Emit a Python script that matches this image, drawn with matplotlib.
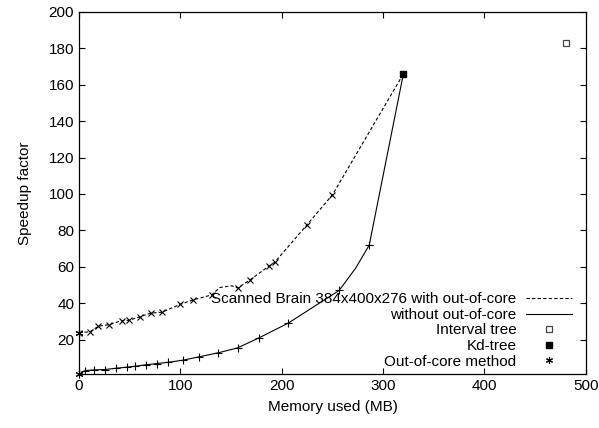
import matplotlib
matplotlib.use("Agg")
import matplotlib.pyplot as plt
from matplotlib.lines import Line2D

plt.rcParams['font.family'] = ['Liberation Sans', 'DejaVu Sans']
plt.rcParams['font.size'] = 11

# with out-of-core (dashed); two unmarked vertices in the bump near 140-150
ooc_mem = [0, 10.8, 19, 30, 42, 49.6, 60, 70.7, 81.8, 99.6, 112.7, 130.8,
           139, 150.6, 156.5, 168.6, 187.7, 193.3, 225, 250, 320]
ooc_speed = [23.8, 24.2, 27.3, 28.2, 30.4, 30.6, 32.5, 34.5, 35, 39.3, 41.8, 44.5,
             48.6, 49.5, 48.3, 52.7, 60.5, 62.6, 83.1, 99.5, 166]
ooc_marked = [i for i in range(len(ooc_mem) - 1) if i not in (12, 13)]

# without out-of-core (solid); one unmarked vertex near 273
in_mem = [0, 5.9, 14.8, 25.6, 36.5, 47, 55.2, 66, 77.2, 88, 102.2, 118.6,
          137.4, 156.5, 177.5, 206.4, 256.7, 273, 286.3, 320]
in_speed = [1, 2.9, 3.3, 3.5, 4.2, 4.8, 5.3, 6.1, 6.8, 7.5, 8.6, 10.5,
            12.7, 15.4, 20.9, 29, 47, 59.3, 71.9, 166]
in_marked = [i for i in range(1, len(in_mem) - 1) if i != 17]

interval_mem, interval_speed = [480], [183]
kd_mem, kd_speed = [320], [166]
oocm_mem, oocm_speed = [0, 0], [23.8, 1]

labels = ['Scanned Brain 384x400x276 with out-of-core', 'without out-of-core',
          'Interval tree', 'Kd-tree', 'Out-of-core method']

fig = plt.figure(figsize=(5.99, 4.28), dpi=100)
ax = fig.add_axes([0.132, 0.126, 0.846, 0.846])

dash = (0, (3, 2))
ax.plot(ooc_mem, ooc_speed, color='black', lw=0.8, ls=dash,
        marker='x', ms=5, mew=0.8, markevery=ooc_marked)
ax.plot(in_mem, in_speed, color='black', lw=0.8, ls='-',
        marker='+', ms=6, mew=0.8, markevery=in_marked)
ax.plot(interval_mem, interval_speed, ls='none', marker='s', ms=4.5,
        mfc='white', mec='#444444', mew=0.9)
ax.plot(kd_mem, kd_speed, ls='none', marker='s', ms=5, color='black')
ax.plot(oocm_mem, oocm_speed, ls='none', marker=(6, 2, 0), ms=5.5,
        color='black', mew=0.8, clip_on=False)

ax.set_xlim(0, 500)
ax.set_ylim(1, 200)
ax.set_xticks(range(0, 501, 100))
ax.set_yticks(range(20, 201, 20))
ax.tick_params(direction='in', top=True, right=True, length=4, width=0.8,
               labelsize=11)
for s in ax.spines.values():
    s.set_linewidth(0.9)

ax.set_xlabel('Memory used (MB)', fontsize=11, labelpad=5)
ax.set_ylabel('Speedup factor', fontsize=11, labelpad=12)

handles = [
    Line2D([], [], color='black', lw=0.8, ls=dash),
    Line2D([], [], color='black', lw=0.8, ls='-'),
    Line2D([], [], ls='none', marker='s', ms=4, mfc='white', mec='#444444', mew=0.9),
    Line2D([], [], ls='none', marker='s', ms=5, color='black'),
    Line2D([], [], ls='none', marker=(6, 2, 0), ms=5, color='black', mew=0.8),
]
ax.legend(handles, labels, loc='lower right', bbox_to_anchor=(0.99, -0.01),
          frameon=False, markerfirst=False, handlelength=3.0, handletextpad=0.6,
          labelspacing=0.1, borderaxespad=0.2, fontsize=11)

fig.savefig('out.png', dpi=100)
